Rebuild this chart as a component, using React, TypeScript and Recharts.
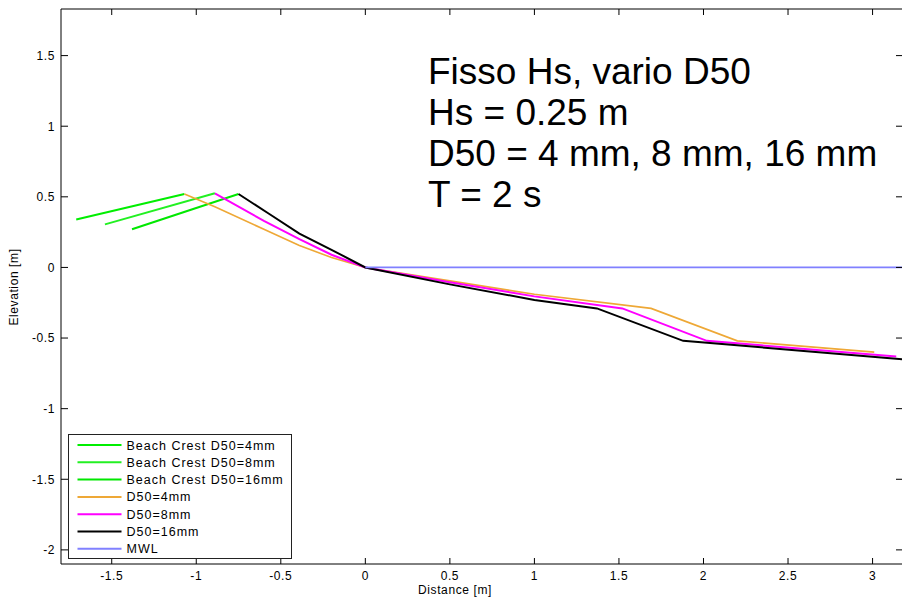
import { LineChart, Line, XAxis, YAxis } from 'recharts'

// axis ticks
const xTicks = [-1.5, -1, -0.5, 0, 0.5, 1, 1.5, 2, 2.5, 3]
const yTicks = [-2, -1.5, -1, -0.5, 0, 0.5, 1, 1.5]

// beach crest segments
const crest4X = [-1.71, -1.07]
const crest4Y = [0.34, 0.52]
const crest8X = [-1.54, -0.89]
const crest8Y = [0.305, 0.525]
const crest16X = [-1.38, -0.75]
const crest16Y = [0.27, 0.52]

// profiles
const prof4X = [-1.07, -0.89, -0.6, -0.39, -0.2, 0, 0.5, 1.0, 1.69, 2.2, 3.01]
const prof4Y = [0.52, 0.43, 0.27, 0.156, 0.07, 0, -0.095, -0.19, -0.29, -0.52, -0.6]
const prof8X = [-0.89, -0.6, -0.39, -0.2, 0, 0.5, 1.0, 1.52, 2.02, 3.14]
const prof8Y = [0.525, 0.33, 0.2, 0.09, 0, -0.105, -0.205, -0.29, -0.52, -0.63]
const prof16X = [-0.75, -0.57, -0.39, -0.2, 0, 0.5, 1.0, 1.37, 1.88, 3.18]
const prof16Y = [0.52, 0.38, 0.24, 0.125, 0, -0.12, -0.23, -0.29, -0.52, -0.65]

// mean water level
const mwlX = [0, 3.18]
const mwlY = [0, 0]

const noteLines = ['Fisso Hs, vario D50', 'Hs = 0.25 m', 'D50 = 4 mm, 8 mm, 16 mm', 'T = 2 s']

const zip = (xs: number[], ys: number[]) => xs.map((x, i) => ({ x, y: ys[i] }))

const series = [
  { name: 'Beach Crest D50=4mm', color: '#00ee00', width: 2, data: zip(crest4X, crest4Y) },
  { name: 'Beach Crest D50=8mm', color: '#22f022', width: 2, data: zip(crest8X, crest8Y) },
  { name: 'Beach Crest D50=16mm', color: '#00e800', width: 2, data: zip(crest16X, crest16Y) },
  { name: 'D50=4mm', color: '#eea836', width: 1.6, data: zip(prof4X, prof4Y) },
  { name: 'D50=8mm', color: '#ff00ff', width: 2, data: zip(prof8X, prof8Y) },
  { name: 'D50=16mm', color: '#000000', width: 2, data: zip(prof16X, prof16Y) },
  { name: 'MWL', color: '#8080ff', width: 1.8, data: zip(mwlX, mwlY) },
]

const FONT = '"Liberation Sans", Arial, sans-serif'
const PLOT_LEFT = 61
const PLOT_TOP = 9
const PLOT_BOTTOM = 564
const PLOT_RIGHT = 903

const fmt = (v: number) => String(v)

const BottomTick = (props: any) => {
  const { x, payload } = props
  return (
    <g>
      <line x1={x} x2={x} y1={PLOT_BOTTOM} y2={PLOT_BOTTOM - 6} stroke="#000" />
      <text x={x} y={580} textAnchor="middle" fontSize={12} letterSpacing={0.6} fill="#000" fontFamily={FONT}>
        {fmt(payload.value)}
      </text>
    </g>
  )
}

const TopTick = (props: any) => {
  const { x } = props
  return <line x1={x} x2={x} y1={PLOT_TOP} y2={PLOT_TOP + 6} stroke="#000" />
}

const LeftTick = (props: any) => {
  const { y, payload } = props
  return (
    <g>
      <line x1={PLOT_LEFT} x2={PLOT_LEFT + 7} y1={y} y2={y} stroke="#000" />
      <text x={55} y={y + 4.3} textAnchor="end" fontSize={12} letterSpacing={0.6} fill="#000" fontFamily={FONT}>
        {fmt(payload.value)}
      </text>
    </g>
  )
}

const RightTick = (props: any) => {
  const { y } = props
  return <line x1={PLOT_RIGHT} x2={PLOT_RIGHT - 7} y1={y} y2={y} stroke="#000" />
}

export default function App() {
  return (
    <div style={{ position: 'absolute', left: 0, top: 0, width: 902, height: 598, overflow: 'hidden', background: '#fff' }}>
      <LineChart width={904} height={598} margin={{ top: 8, right: 0, bottom: 0, left: 0 }}>
        <XAxis
          dataKey="x"
          type="number"
          domain={[-1.8, 3.18]}
          ticks={xTicks}
          interval={0}
          allowDataOverflow
          height={34}
          tickLine={false}
          axisLine={{ stroke: '#000' }}
          tick={BottomTick}
        />
        <XAxis
          xAxisId="top"
          orientation="top"
          dataKey="x"
          type="number"
          domain={[-1.8, 3.18]}
          ticks={xTicks}
          interval={0}
          allowDataOverflow
          height={1}
          tickLine={false}
          axisLine={{ stroke: '#000' }}
          tick={TopTick}
        />
        <YAxis
          dataKey="y"
          type="number"
          domain={[-2.1, 1.83]}
          ticks={yTicks}
          interval={0}
          allowDataOverflow
          width={61}
          tickLine={false}
          axisLine={{ stroke: '#000' }}
          tick={LeftTick}
        />
        <YAxis
          yAxisId="right"
          orientation="right"
          dataKey="y"
          type="number"
          domain={[-2.1, 1.83]}
          ticks={yTicks}
          interval={0}
          allowDataOverflow
          width={1}
          tickLine={false}
          axisLine={{ stroke: '#000' }}
          tick={RightTick}
        />
        {series.map((s) => (
          <Line
            key={s.name}
            data={s.data}
            dataKey="y"
            name={s.name}
            type="linear"
            stroke={s.color}
            strokeWidth={s.width}
            dot={false}
            activeDot={false}
            isAnimationActive={false}
          />
        ))}
      </LineChart>
      <svg
        width={902}
        height={598}
        style={{ position: 'absolute', left: 0, top: 0, pointerEvents: 'none' }}
        fontFamily={FONT}
      >
        <text x={428} y={84} fontSize={37} fill="#000">
          {noteLines.map((t, i) => (
            <tspan key={t} x={428} dy={i === 0 ? 0 : 41}>
              {t}
            </tspan>
          ))}
        </text>
        <text x={455} y={594} textAnchor="middle" fontSize={12} letterSpacing={0.6} fill="#000">
          Distance [m]
        </text>
        <text
          x={18}
          y={287}
          textAnchor="middle"
          fontSize={12}
          letterSpacing={0.6}
          fill="#000"
          transform="rotate(-90 18 287)"
        >
          Elevation [m]
        </text>
        <g transform="translate(68.5 434.5)">
          <rect x={0} y={0} width={223} height={124} fill="#fff" stroke="#222" />
          {series.map((s, i) => {
            const cy = 10.5 + i * 17.3
            return (
              <g key={s.name}>
                <line x1={9} x2={53} y1={cy} y2={cy} stroke={s.color} strokeWidth={2} />
                <text x={58} y={cy + 4.5} fontSize={12.5} letterSpacing={1} fill="#000">
                  {s.name}
                </text>
              </g>
            )
          })}
        </g>
      </svg>
    </div>
  )
}
